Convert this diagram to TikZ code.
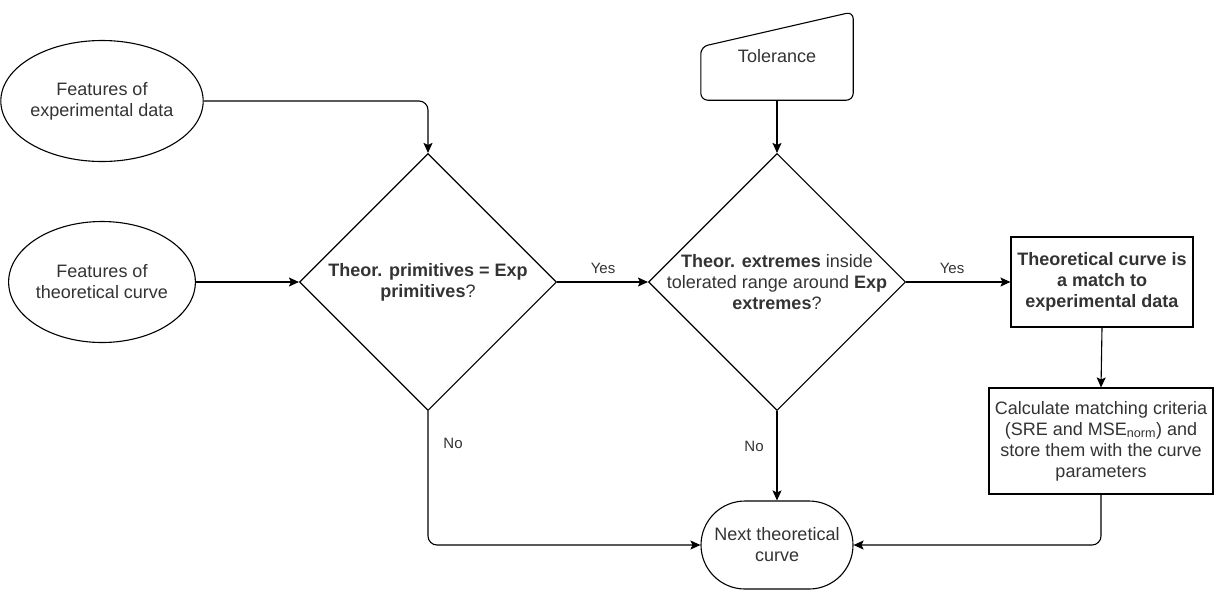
\documentclass[tikz,border=0pt]{standalone}
\usepackage{fontspec}
\setmainfont{Liberation Sans}
\usetikzlibrary{shapes.geometric,arrows.meta,calc}
\begin{document}
\begin{tikzpicture}[x=1pt,y=-1pt,
  txt/.style={font=\fontsize{18}{21}\selectfont, text=black!80, align=center, inner sep=0pt},
  base/.style={txt, draw=black, line width=1.1pt, fill=white},
  ell/.style={base, ellipse, minimum width=181pt, minimum height=121pt},
  dia/.style={draw=black, line width=1.1pt, diamond, minimum width=257pt, minimum height=257pt, inner sep=0pt},
  boxnode/.style={base, rectangle},
  termnode/.style={base, rectangle, rounded corners=44pt, minimum width=152pt, minimum height=88pt},
  arr/.style={line width=1.1pt, draw=black, -{Stealth[length=10pt,width=9pt,inset=2pt]}},
  lbl/.style={font=\fontsize{15}{18}\selectfont, text=black!80, inner sep=0pt}
]
\useasboundingbox (0,0) rectangle (1214,590);

% nodes
\node[ell] (e1) at (102,101) {Features of\\experimental data};
\node[ell] (e2) at (102,282) {Features of\\theoretical curve};

\node[dia] (d1) at (428,282) {};
\node[txt] (d1t) at (d1.center) {\textbf{Theor. primitives = Exp}\\\textbf{primitives}?};

\node[dia] (d2) at (777,282) {};
\node[txt] (d2t) at (d2.center) {\textbf{Theor. extremes} inside\\tolerated range around \textbf{Exp}\\\textbf{extremes}?};

\node[inner sep=0pt, minimum width=152pt, minimum height=88pt] (tol) at (777,56) {};
\draw[line width=1.1pt, rounded corners=7pt, fill=white]
  (tol.south west) -- ([yshift=-35pt]tol.north west) -- (tol.north east) -- (tol.south east) -- cycle;
\node[txt] (tolt) at (tol.center) {Tolerance};

\node[boxnode, minimum width=182pt, minimum height=90pt] (b1) at (1102,282)
  {\textbf{Theoretical curve is}\\\textbf{a match to}\\\textbf{experimental data}};

\node[boxnode, minimum width=224pt, minimum height=106pt] (b2) at (1101,441)
  {Calculate matching criteria\\(SRE and MSE\textsubscript{norm}) and\\store them with the curve\\parameters};

\node[termnode] (term) at (777,545) {Next theoretical\\curve};

% connectors
\draw[arr, rounded corners=9pt] (e1.east) -| (d1.north);
\draw[arr] (e2.east) -- (d1.west);
\draw[arr] (d1.east) -- (d2.west);
\draw[arr] (tol.south) -- (d2.north);
\draw[arr] (d2.east) -- (b1.west);
\draw[arr] (b1.south) -- (b2.north);
\draw[arr, rounded corners=9pt] (b2.south) |- (term.east);
\draw[arr, rounded corners=9pt] (d1.south) |- (term.west);
\draw[arr] (d2.south) -- (term.north);

% labels
\node[lbl] (y1) at (603,268) {Yes};
\node[lbl] (y2) at (952,268) {Yes};
\node[lbl] (n1) at (453,443) {No};
\node[lbl] (n2) at (754,446) {No};
\end{tikzpicture}
\end{document}
